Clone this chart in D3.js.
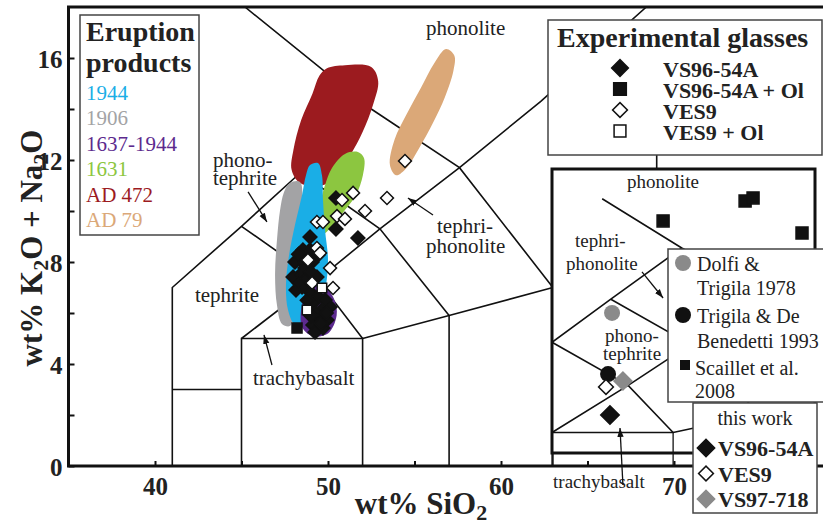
<!DOCTYPE html>
<html>
<head>
<meta charset="utf-8">
<script src="https://cdn.jsdelivr.net/npm/d3@7"></script>
<style>
  body { margin: 0; background: #fff; }
  text { font-family: "Liberation Serif", "Times New Roman", serif; }
</style>
</head>
<body>
<div id="chart"></div>
<script>
var w = 823, h = 529;

// TAS field boundaries, [SiO2, Na2O + K2O]
var tasLines = [
  [[41, 0], [41, 7], [45, 9.4], [48.4, 11.5], [52.5, 14]],
  [[41, 3], [45, 3]],
  [[45, 0], [45, 5], [52, 5], [52, 0]],
  [[52, 5], [57, 5.9], [63, 7], [69, 8]],
  [[57, 0], [57, 5.9]],
  [[63, 0], [63, 7]],
  [[45, 5], [49.4, 7.3], [53, 9.3], [57.6, 11.7], [62.3, 14.3], [68.4, 18]],
  [[45, 9.4], [49.4, 7.3], [52, 5]],
  [[48.4, 11.5], [53, 9.3], [57, 5.9]],
  [[45.2, 18], [52.5, 14], [57.6, 11.7], [63, 7]],
  [[69, 8], [69, 13]]
];

// inset (close-up) boundaries
var insetLines = [
  [[45, 5], [52, 5], [57, 5.9]],
  [[45, 5], [49.4, 7.3], [53, 9.3], [57.6, 11.7]],
  [[45, 9.4], [49.4, 7.3], [52, 5]],
  [[45, 9.4], [48.4, 11.5], [52.5, 14]],
  [[48.4, 11.5], [53, 9.3], [57, 5.9]],
  [[47.9, 16.4], [52.5, 14], [57.6, 11.7]]
];

// eruption product fields
var eruptions = ["1944", "1906", "1637-1944", "1631", "AD 472", "AD 79"];
var eruptionColors = ["#1aaee6", "#a3a3a5", "#5c2a8e", "#8cc640", "#9c1b1f", "#dba878"];

var field472 = [[49.94,15.6],[50.98,15.72],[52.5,15.65],[52.9,15.1],[52.6,14.16],[52.0,13.1],
  [51.3,12.2],[50.45,11.29],[49.65,11.0],[48.38,11.1],[47.9,11.61],[48.0,12.39],[48.45,13.57],[49.1,14.6],[49.5,15.3]];
var field79 = [[56.82,16.35],[57.3,16.1],[57.25,15.5],[56.75,14.45],[56.1,13.5],[55.3,12.5],
  [54.55,11.7],[53.93,11.4],[53.58,11.8],[53.85,12.8],[54.55,13.8],[55.35,14.8],[56.15,15.8]];
var field1631 = [[50.98,12.24],[51.73,12.31],[52.08,12.08],[52.02,11.41],[51.62,10.63],[50.98,10.04],
  [50.29,9.45],[49.71,9.1],[49.42,9.45],[49.54,10.24],[49.83,11.02],[50.23,11.69]];
var field1906 = [[47.8,11.1],[48.38,11.14],[48.5,10.43],[48.09,9.25],[47.75,8.08],[47.69,6.9],
  [47.98,5.84],[47.8,5.49],[47.34,5.57],[47.05,6.31],[46.94,7.49],[47.05,8.86],[47.23,10.04],[47.46,10.75]];
var field1944 = [[48.96,11.8],[49.42,11.88],[49.65,11.41],[49.71,10.43],[49.83,9.25],[50.0,8.08],
  [49.83,6.9],[49.42,6.12],[48.67,5.45],[48.09,5.53],[47.69,6.12],[47.57,7.1],[47.75,8.27],[48.09,9.45],[48.5,10.63],[48.73,11.41]];
var field1637 = [[48.96,6.95],[49.75,7.05],[50.35,6.55],[50.5,5.9],[50.0,5.2],[49.08,5.1],[48.5,5.45],[48.5,6.31]];
var fields = [field1944, field1906, field1637, field1631, field472, field79];
var drawOrder = [4, 5, 3, 1, 0, 2];

// experimental glasses
var vs9654A = [[50.46,10.51],[50.46,9.29],[51.73,8.94],[48.96,8.98],[48.55,8.47],[48.96,8.47],[49.42,8.27],
  [48.09,8.0],[48.55,8.0],[49.08,8.0],[47.98,7.41],[48.38,7.49],[49.36,7.41],[48.67,7.76],[48.5,7.02],
  [48.15,6.9],[48.96,6.82],[49.42,6.63],[49.83,6.51],[49.13,6.39],[49.65,6.12],[50.12,6.24],[49.42,5.8],
  [49.94,5.73],[49.13,5.53],[49.71,5.41],[49.25,5.25],[48.3,7.2],[48.8,7.35],[49.0,7.6],[48.7,8.2],
  [49.3,6.0],[49.6,5.6],[49.0,5.9],[48.8,6.5],[48.3,8.3],[49.9,6.0]];
var vs9654AOl = [[48.21,5.41]];
var ves9 = [[54.45,11.96],[51.45,10.71],[50.81,10.43],[53.41,10.51],[52.14,10.0],[50.52,9.8],[50.98,9.69],
  [49.36,9.57],[49.71,9.57],[49.36,8.55],[48.84,8.08],[49.54,8.35],[50.12,7.76],[49.08,7.18],[50.29,6.98]];
var ves9Ol = [[49.65,6.98],[48.79,6.12]];

// inset data
var scaillet = [[51.42,15.32],[56.16,16.29],[56.62,16.44],[59.45,14.73]];
var dolfi = [[48.47,10.83]];
var trigila = [[48.24,7.85]];
var thisWorkVS9654A = [[48.35,5.85]];
var thisWorkVES9 = [[48.12,7.22]];
var thisWorkVS97718 = [[49.1,7.51]];

var xTicks = [40, 45, 50, 55, 60, 65, 70, 75];
var yTicks = [0, 2, 4, 6, 8, 10, 12, 14, 16];

var x = d3.scaleLinear().domain([35, 80]).range([68.5, 847]);
var y = d3.scaleLinear().domain([0, 18]).range([466, 7]);
var ix = d3.scaleLinear().domain([45, 60.2]).range([552, 815]);
var iy = d3.scaleLinear().domain([4, 17.85]).range([453, 169]);

var svg = d3.select("#chart").append("svg").attr("width", w).attr("height", h);
var defs = svg.append("defs");
defs.append("clipPath").attr("id", "plotClip").append("rect")
  .attr("x", x(35)).attr("y", y(18)).attr("width", w - x(35)).attr("height", y(0) - y(18));
defs.append("clipPath").attr("id", "insetClip").append("rect")
  .attr("x", ix(45)).attr("y", iy(17.85)).attr("width", ix(60.2) - ix(45)).attr("height", iy(4) - iy(17.85));
defs.append("marker").attr("id", "arrow").attr("viewBox", "0 0 10 10")
  .attr("refX", 10).attr("refY", 5).attr("markerWidth", 9).attr("markerHeight", 9)
  .attr("markerUnits", "userSpaceOnUse").attr("orient", "auto")
  .append("path").attr("d", "M0,1.5L10,5L0,8.5Z").attr("fill", "#111");

function symbolAt(g, data, sx, sy, shape, size, fill, stroke, rotate) {
  g.selectAll(null).data(data).enter().append("path")
    .attr("d", d3.symbol().type(shape).size(size))
    .attr("transform", function(d) { return "translate(" + sx(d[0]) + "," + sy(d[1]) + ")" + (rotate ? " rotate(45)" : ""); })
    .attr("fill", fill).attr("stroke", stroke).attr("stroke-width", 1.5);
}

function label(g, str, px, py, size, opts) {
  opts = opts || {};
  return g.append("text").attr("x", px).attr("y", py)
    .attr("font-size", size).attr("font-weight", opts.bold ? "bold" : "normal")
    .attr("fill", opts.fill || "#222").attr("text-anchor", opts.anchor || "start").text(str);
}

// main TAS grid
var plot = svg.append("g").attr("clip-path", "url(#plotClip)");
var line = d3.line().x(function(d) { return x(d[0]); }).y(function(d) { return y(d[1]); });
plot.selectAll(".tas").data(tasLines).enter().append("path")
  .attr("class", "tas").attr("d", line).attr("fill", "none").attr("stroke", "#111").attr("stroke-width", 1.6);

// eruption fields
var blob = d3.line().x(function(d) { return x(d[0]); }).y(function(d) { return y(d[1]); })
  .curve(d3.curveCatmullRomClosed.alpha(0.5));
drawOrder.forEach(function(i) {
  plot.append("path").attr("d", blob(fields[i])).attr("fill", eruptionColors[i]);
});

// glasses
symbolAt(plot, vs9654A, x, y, d3.symbolSquare, 96, "#111", "#111", true);
symbolAt(plot, ves9, x, y, d3.symbolSquare, 84, "#fff", "#111", true);
symbolAt(plot, ves9Ol, x, y, d3.symbolSquare, 90, "#fff", "#111", false);
symbolAt(plot, vs9654AOl, x, y, d3.symbolSquare, 100, "#111", "#111", false);

// field names
label(svg, "phonolite", x(55.66), y(16.9), 21);
label(svg, "phono-", x(43.35), y(11.73), 21);
label(svg, "tephrite", x(43.35), y(11.02), 21);
label(svg, "tephri-", x(56.3), y(9.14), 21);
label(svg, "phonolite", x(55.66), y(8.35), 21);
label(svg, "tephrite", x(42.31), y(6.43), 21);
label(svg, "trachybasalt", x(45.66), y(3.18), 21);
var arrows = [
  [[45.38, 10.75], [46.47, 9.57]],
  [[56.07, 9.84], [54.62, 10.51]],
  [[46.76, 3.96], [46.3, 5.14]]
];
svg.selectAll(".arr").data(arrows).enter().append("path").attr("class", "arr")
  .attr("d", line).attr("stroke", "#111").attr("stroke-width", 1.3).attr("marker-end", "url(#arrow)");

// axes
var xAxis = svg.append("g").attr("transform", "translate(0," + y(0) + ")")
  .call(d3.axisBottom(x).tickValues(xTicks).tickSizeInner(-5).tickSizeOuter(0).tickPadding(11)
    .tickFormat(function(d) { return d % 10 === 0 ? d : ""; }));
var yAxis = svg.append("g").attr("transform", "translate(" + x(35) + ",0)")
  .call(d3.axisLeft(y).tickValues(yTicks).tickSizeInner(-6).tickSizeOuter(0).tickPadding(6)
    .tickFormat(function(d) { return d % 4 === 0 ? d : ""; }));
[xAxis, yAxis].forEach(function(a) {
  a.select(".domain").remove();
  a.selectAll(".tick line").attr("stroke", "#111").attr("stroke-width", 2);
  a.selectAll(".tick text").attr("font-family", "Liberation Serif, serif").attr("font-size", 25)
    .attr("font-weight", "bold").attr("fill", "#222");
});
yAxis.selectAll(".tick text").attr("dy", "0.36em");
svg.append("path")
  .attr("d", "M" + w + "," + y(18) + "H" + x(35) + "V" + y(0) + "H" + w)
  .attr("fill", "none").attr("stroke", "#111").attr("stroke-width", 3);

// axis titles
var xt = svg.append("text").attr("x", 421).attr("y", 514).attr("text-anchor", "middle")
  .attr("font-size", 31).attr("font-weight", "bold").attr("fill", "#222");
xt.append("tspan").text("wt% SiO");
xt.append("tspan").attr("dy", 6).attr("font-size", 22).text("2");
var yt = svg.append("text").attr("transform", "translate(42,248) rotate(-90)").attr("text-anchor", "middle")
  .attr("font-size", 31).attr("font-weight", "bold").attr("fill", "#222");
yt.append("tspan").text("wt% K");
yt.append("tspan").attr("dy", 6).attr("font-size", 22).text("2");
yt.append("tspan").attr("dy", -6).text("O + Na");
yt.append("tspan").attr("dy", 6).attr("font-size", 22).text("2");
yt.append("tspan").attr("dy", -6).text("O");

// eruption products legend
svg.append("rect").attr("x", 80).attr("y", 15).attr("width", 119).attr("height", 220)
  .attr("fill", "#fff").attr("stroke", "#444").attr("stroke-width", 1.5);
label(svg, "Eruption", 86, 41, 28, { bold: true });
label(svg, "products", 86, 72, 28, { bold: true });
eruptions.forEach(function(name, i) {
  label(svg, name, 86, 100 + i * 25.4, 21, { fill: eruptionColors[i] });
});

// experimental glasses legend
svg.append("rect").attr("x", 548).attr("y", 20).attr("width", 274).attr("height", 135)
  .attr("fill", "#fff").attr("stroke", "#444").attr("stroke-width", 1.5);
label(svg, "Experimental glasses", 557, 47, 28, { bold: true });
var glassNames = ["VS96-54A", "VS96-54A + Ol", "VES9", "VES9 + Ol"];
var legY = d3.scalePoint().domain(glassNames).range([68, 131]);
var lg = svg.append("g");
symbolAt(lg, [[glassNames[0]]], function() { return 620; }, function() { return legY(glassNames[0]); }, d3.symbolSquare, 140, "#111", "#111", true);
symbolAt(lg, [[glassNames[1]]], function() { return 620; }, function() { return legY(glassNames[1]); }, d3.symbolSquare, 160, "#111", "#111", false);
symbolAt(lg, [[glassNames[2]]], function() { return 620; }, function() { return legY(glassNames[2]); }, d3.symbolSquare, 110, "#fff", "#111", true);
symbolAt(lg, [[glassNames[3]]], function() { return 620; }, function() { return legY(glassNames[3]); }, d3.symbolSquare, 140, "#fff", "#111", false);
glassNames.forEach(function(n) { label(svg, n, 663, legY(n) + 9, 22, { bold: true }); });

// inset
var inset = svg.append("g");
inset.append("rect").attr("x", ix(45)).attr("y", iy(17.85)).attr("width", ix(60.2) - ix(45)).attr("height", iy(4) - iy(17.85))
  .attr("fill", "#fff");
var ig = inset.append("g").attr("clip-path", "url(#insetClip)");
var iline = d3.line().x(function(d) { return ix(d[0]); }).y(function(d) { return iy(d[1]); });
ig.selectAll(".itas").data(insetLines).enter().append("path").attr("class", "itas")
  .attr("d", iline).attr("fill", "none").attr("stroke", "#111").attr("stroke-width", 1.6);
inset.append("path").attr("d", iline([[52, 5], [52, 3.37]])).attr("stroke", "#111").attr("stroke-width", 1.3);
inset.append("path").attr("d", iline([[45, 4], [45, 3.37]])).attr("stroke", "#111").attr("stroke-width", 1.3);
inset.append("rect").attr("x", ix(45)).attr("y", iy(17.85)).attr("width", ix(60.2) - ix(45)).attr("height", iy(4) - iy(17.85))
  .attr("fill", "none").attr("stroke", "#111").attr("stroke-width", 3);

label(inset, "phonolite", ix(49.34), iy(16.93), 19);
label(inset, "tephri-", ix(46.33), iy(14.05), 19);
label(inset, "phonolite", ix(45.81), iy(12.93), 19);
label(inset, "phono-", ix(48.06), iy(9.41), 19);
label(inset, "tephrite", ix(47.95), iy(8.54), 19);
label(inset, "trachybasalt", ix(45.06), iy(2.29), 19);
var insetArrows = [
  [[50.2, 12.83], [51.42, 11.56]],
  [[49.1, 2.44], [48.93, 5.22]]
];
inset.selectAll(".iarr").data(insetArrows).enter().append("path").attr("class", "iarr")
  .attr("d", iline).attr("stroke", "#111").attr("stroke-width", 1.3).attr("marker-end", "url(#arrow)");

symbolAt(inset, scaillet, ix, iy, d3.symbolSquare, 144, "#111", "#111", false);
inset.selectAll(null).data(dolfi).enter().append("circle")
  .attr("cx", function(d) { return ix(d[0]); }).attr("cy", function(d) { return iy(d[1]); }).attr("r", 8).attr("fill", "#8a8a8a");
inset.selectAll(null).data(trigila).enter().append("circle")
  .attr("cx", function(d) { return ix(d[0]); }).attr("cy", function(d) { return iy(d[1]); }).attr("r", 8).attr("fill", "#111");
symbolAt(inset, thisWorkVES9, ix, iy, d3.symbolSquare, 110, "#fff", "#111", true);
symbolAt(inset, thisWorkVS97718, ix, iy, d3.symbolSquare, 160, "#8a8a8a", "#8a8a8a", true);
symbolAt(inset, thisWorkVS9654A, ix, iy, d3.symbolSquare, 170, "#111", "#111", true);

// literature legend
inset.append("rect").attr("x", 668).attr("y", 249).attr("width", 160).attr("height", 153)
  .attr("fill", "#fff").attr("stroke", "#444").attr("stroke-width", 1.5);
inset.append("circle").attr("cx", 683).attr("cy", 263).attr("r", 8).attr("fill", "#8a8a8a");
inset.append("circle").attr("cx", 683).attr("cy", 315).attr("r", 8).attr("fill", "#111");
inset.append("rect").attr("x", 680).attr("y", 360).attr("width", 10).attr("height", 10).attr("fill", "#111");
label(inset, "Dolfi &", 697, 271, 20);
label(inset, "Trigila 1978", 697, 295, 20);
label(inset, "Trigila & De", 697, 323, 20);
label(inset, "Benedetti 1993", 697, 348, 20);
label(inset, "Scaillet et al.", 695, 375, 20);
label(inset, "2008", 695, 398, 20);

// this work legend
inset.append("rect").attr("x", 693).attr("y", 403).attr("width", 124).attr("height", 110)
  .attr("fill", "#fff").attr("stroke", "#444").attr("stroke-width", 1.5);
label(inset, "this work", 755, 425, 20, { anchor: "middle" });
var workNames = ["VS96-54A", "VES9", "VS97-718"];
var workFill = ["#111", "#fff", "#8a8a8a"];
var workStroke = ["#111", "#111", "#8a8a8a"];
var workY = d3.scalePoint().domain(workNames).range([448, 499]);
workNames.forEach(function(n, i) {
  symbolAt(inset, [[n]], function() { return 706; }, function() { return workY(n); }, d3.symbolSquare,
    i === 1 ? 110 : 150, workFill[i], workStroke[i], true);
  label(inset, n, 718, workY(n) + 8, 22, { bold: true });
});
</script>
</body>
</html>
